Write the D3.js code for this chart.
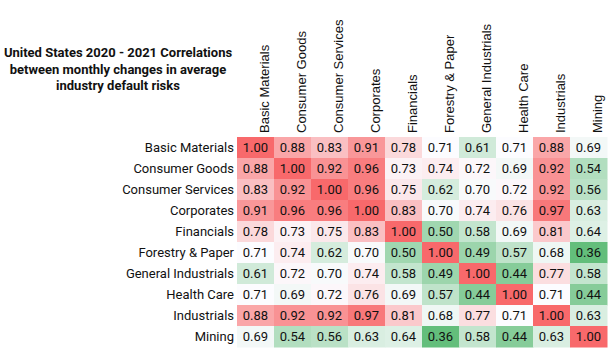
<!DOCTYPE html>
<html>
<head>
<meta charset="utf-8">
<script src="https://cdn.jsdelivr.net/npm/d3@7"></script>
<style>
  html, body { margin: 0; padding: 0; background: #fff; }
  svg { display: block; }
</style>
</head>
<body>
<div id="chart"></div>
<script>
// industries, shown in the same order on both axes
const industries = [
  "Basic Materials", "Consumer Goods", "Consumer Services", "Corporates",
  "Financials", "Forestry & Paper", "General Industrials", "Health Care",
  "Industrials", "Mining"
];

// correlation rows, one per industry
const basicMaterials     = [1.00, 0.88, 0.83, 0.91, 0.78, 0.71, 0.61, 0.71, 0.88, 0.69];
const consumerGoods      = [0.88, 1.00, 0.92, 0.96, 0.73, 0.74, 0.72, 0.69, 0.92, 0.54];
const consumerServices   = [0.83, 0.92, 1.00, 0.96, 0.75, 0.62, 0.70, 0.72, 0.92, 0.56];
const corporates         = [0.91, 0.96, 0.96, 1.00, 0.83, 0.70, 0.74, 0.76, 0.97, 0.63];
const financials         = [0.78, 0.73, 0.75, 0.83, 1.00, 0.50, 0.58, 0.69, 0.81, 0.64];
const forestryPaper      = [0.71, 0.74, 0.62, 0.70, 0.50, 1.00, 0.49, 0.57, 0.68, 0.36];
const generalIndustrials = [0.61, 0.72, 0.70, 0.74, 0.58, 0.49, 1.00, 0.44, 0.77, 0.58];
const healthCare         = [0.71, 0.69, 0.72, 0.76, 0.69, 0.57, 0.44, 1.00, 0.71, 0.44];
const industrials        = [0.88, 0.92, 0.92, 0.97, 0.81, 0.68, 0.77, 0.71, 1.00, 0.63];
const mining             = [0.69, 0.54, 0.56, 0.63, 0.64, 0.36, 0.58, 0.44, 0.63, 1.00];

const rows = [basicMaterials, consumerGoods, consumerServices, corporates, financials,
  forestryPaper, generalIndustrials, healthCare, industrials, mining];

const titleLines = [
  "United States 2020 - 2021 Correlations",
  "between monthly changes in average",
  "industry default risks"
];

const width = 608;
const height = 348;
const gridLeft = 237, gridTop = 137;
const gridW = 370, gridH = 210;

// flatten into cells
const cells = [];
rows.forEach((r, i) => r.forEach((v, j) => cells.push({ row: industries[i], col: industries[j], value: v })));

const xScale = d3.scaleBand().domain(industries).range([0, gridW]);
const yScale = d3.scaleBand().domain(industries).range([0, gridH]);

const allValues = rows.flat();
const colour = d3.scaleLinear()
  .domain([d3.min(allValues), 0.71, d3.max(allValues)])
  .range(["#63be7b", "#fcfcff", "#f8696b"]);

const svg = d3.select("#chart").append("svg")
  .attr("width", width)
  .attr("height", height);

// title
svg.append("g")
  .selectAll("text")
  .data(titleLines)
  .enter()
  .append("text")
    .attr("x", 118)
    .attr("y", (d, i) => 57 + i * 16.5)
    .attr("text-anchor", "middle")
    .attr("font-family", "Roboto, sans-serif")
    .attr("font-weight", "bold")
    .attr("font-size", 13)
    .attr("fill", "#111")
    .text(d => d);

const g = svg.append("g").attr("transform", `translate(${gridLeft}, ${gridTop})`);

g.selectAll("rect")
  .data(cells)
  .enter()
  .append("rect")
    .attr("x", d => xScale(d.col))
    .attr("y", d => yScale(d.row))
    .attr("width", xScale.bandwidth() + 0.5)
    .attr("height", yScale.bandwidth() + 0.5)
    .attr("fill", d => colour(d.value));

g.selectAll("text.val")
  .data(cells)
  .enter()
  .append("text")
    .attr("class", "val")
    .attr("x", d => xScale(d.col) + xScale.bandwidth() / 2)
    .attr("y", d => yScale(d.row) + yScale.bandwidth() / 2)
    .attr("dy", "0.36em")
    .attr("text-anchor", "middle")
    .attr("font-family", "Roboto, sans-serif")
    .attr("font-size", 13)
    .attr("fill", "#111")
    .text(d => d.value.toFixed(2));

// row labels
g.selectAll("text.rowlab")
  .data(industries)
  .enter()
  .append("text")
    .attr("class", "rowlab")
    .attr("x", -3)
    .attr("y", d => yScale(d) + yScale.bandwidth() / 2)
    .attr("dy", "0.36em")
    .attr("text-anchor", "end")
    .attr("font-family", "Roboto, sans-serif")
    .attr("font-size", 13)
    .attr("fill", "#111")
    .text(d => d);

// column labels, rotated
g.selectAll("text.collab")
  .data(industries)
  .enter()
  .append("text")
    .attr("class", "collab")
    .attr("transform", d => `translate(${xScale(d) + xScale.bandwidth() / 2 + 13}, -4) rotate(-90)`)
    .attr("text-anchor", "start")
    .attr("font-family", "'Liberation Sans', Arial, sans-serif")
    .attr("font-size", 13)
    .attr("fill", "#111")
    .text(d => d);
</script>
</body>
</html>
